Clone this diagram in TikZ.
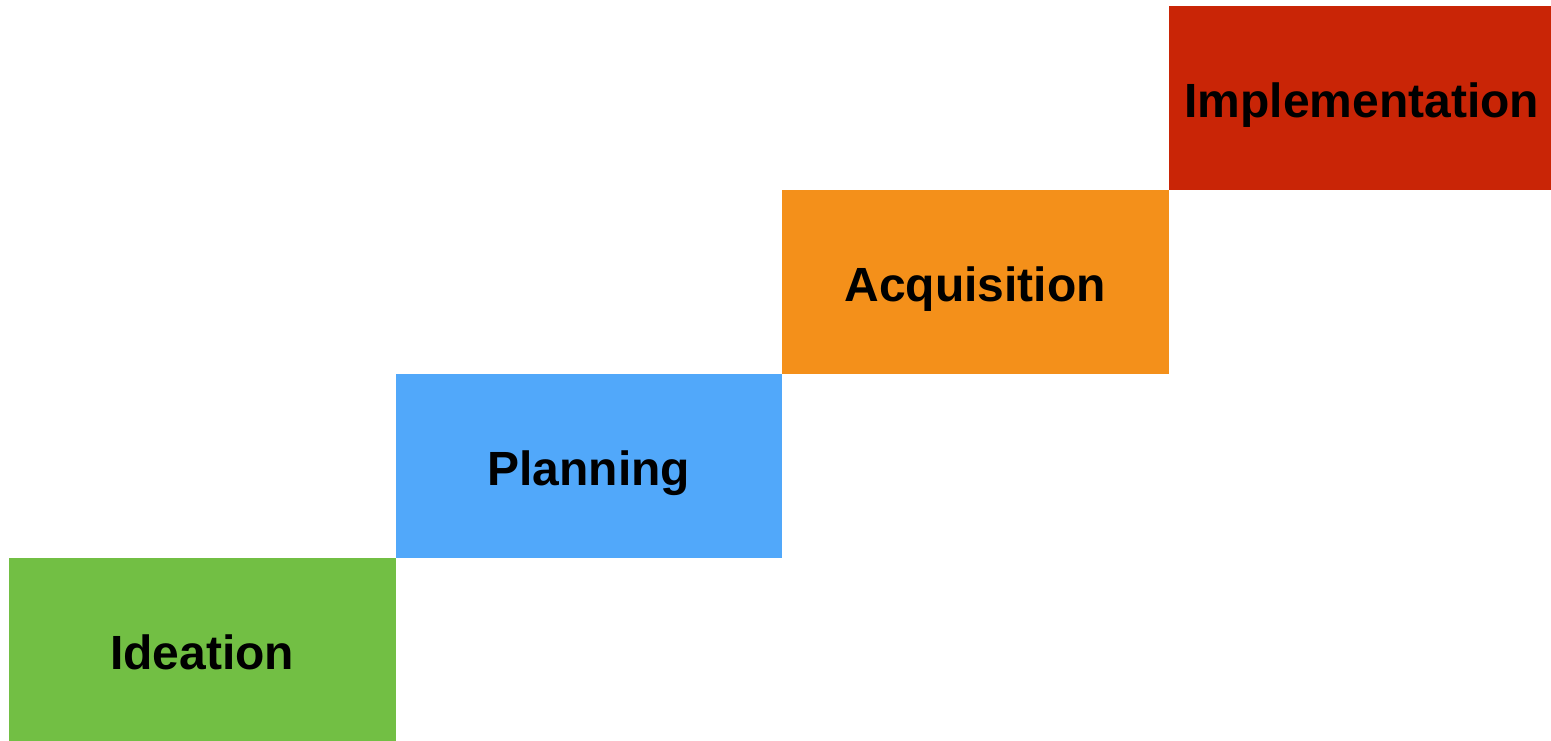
\documentclass[tikz,border=0pt]{standalone}
\usepackage{fontspec}
\setmainfont{Liberation Sans}
\usetikzlibrary{positioning}

\definecolor{ideagreen}{HTML}{72BF44}
\definecolor{planblue}{HTML}{51A8FA}
\definecolor{acqorange}{HTML}{F4901A}
\definecolor{implred}{HTML}{C92506}

\begin{document}
\begin{tikzpicture}[
  x = 1pt, y = 1pt,
  every node/.style = {inner sep = 0pt, outer sep = 0pt},
  stage/.style = {minimum width = 386.5pt, minimum height = 184pt,
                  text height = 40pt, text depth = 0pt,
                  font = \fontsize{48}{58}\selectfont\bfseries},
  ]
  \useasboundingbox (0,0) rectangle (1551,741);
  \node[stage, fill = ideagreen, anchor = south west] (ideation) at (9,-1) {Ideation};
  \node[stage, fill = planblue, anchor = south west] (planning) at (ideation.north east) {Planning};
  \node[stage, fill = acqorange, anchor = south west] (acquisition) at (planning.north east) {Acquisition};
  \node[stage, fill = implred, anchor = south west] (implementation) at (acquisition.north east) {Implementation};
\end{tikzpicture}
\end{document}
